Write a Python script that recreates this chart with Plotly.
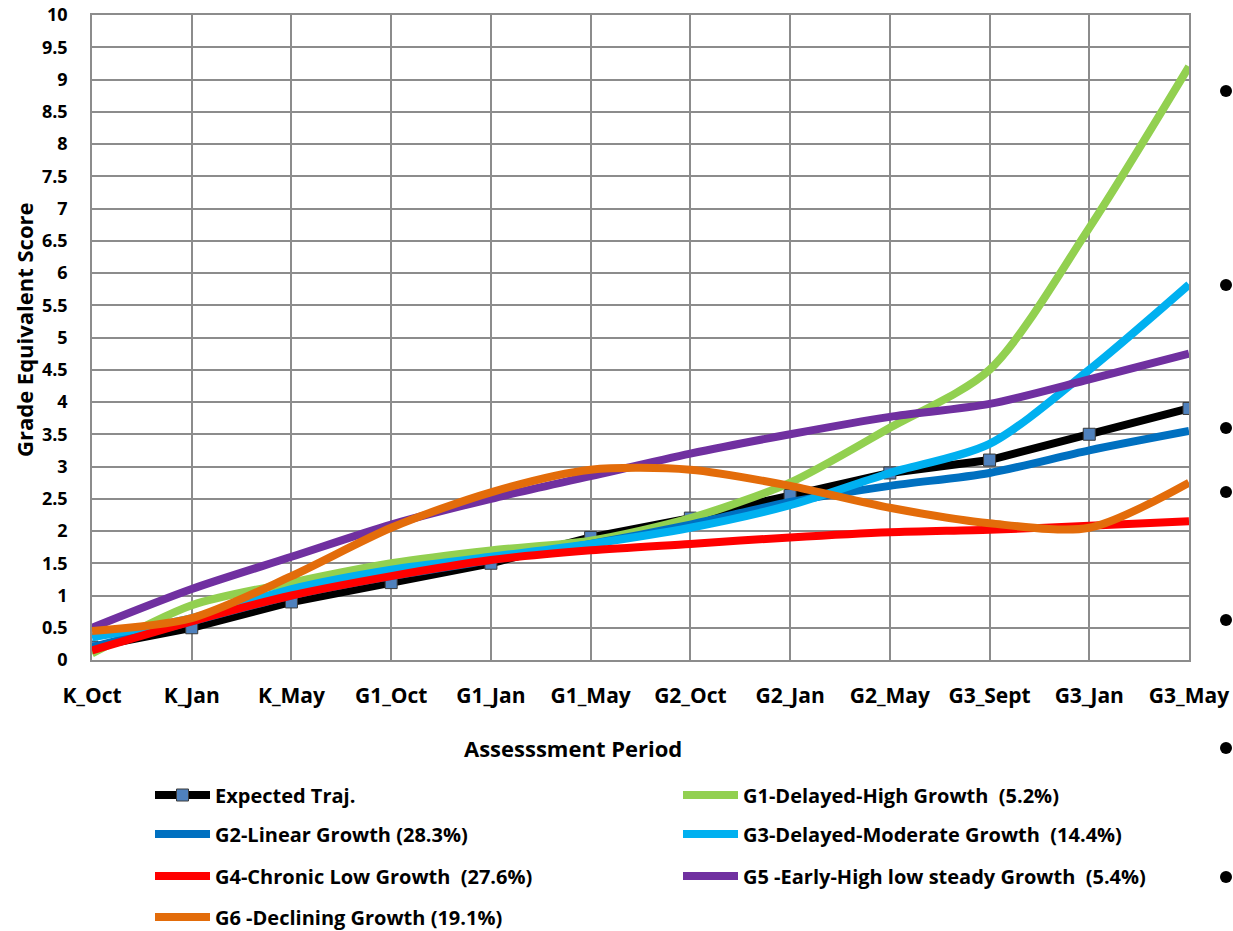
"""Reading growth trajectories by latent class, Excel-style line chart."""

import plotly.graph_objects as go

periods = ["K_Oct", "K_Jan", "K_May", "G1_Oct", "G1_Jan", "G1_May",
           "G2_Oct", "G2_Jan", "G2_May", "G3_Sept", "G3_Jan", "G3_May"]

expected = [0.2, 0.5, 0.9, 1.2, 1.5, 1.9, 2.2, 2.55, 2.9, 3.1, 3.5, 3.9]
g1_delayed_high = [0.1, 0.85, 1.2, 1.5, 1.7, 1.85, 2.2, 2.75, 3.6, 4.5, 6.7, 9.2]
g2_linear = [0.2, 0.6, 1.0, 1.3, 1.55, 1.8, 2.1, 2.45, 2.7, 2.9, 3.25, 3.55]
g3_delayed_mod = [0.35, 0.65, 1.1, 1.4, 1.6, 1.8, 2.05, 2.4, 2.9, 3.35, 4.5, 5.82]
g4_chronic_low = [0.15, 0.6, 1.0, 1.3, 1.55, 1.7, 1.8, 1.9, 1.98, 2.02, 2.08, 2.15]
g5_early_high = [0.5, 1.1, 1.6, 2.1, 2.5, 2.85, 3.2, 3.5, 3.77, 3.97, 4.35, 4.75]
g6_declining = [0.45, 0.65, 1.3, 2.05, 2.6, 2.95, 2.95, 2.7, 2.36, 2.12, 2.05, 2.75]

series = [
    ("G1-Delayed-High Growth  (5.2%)", g1_delayed_high, "#92D050", "legend"),
    ("G2-Linear Growth (28.3%)", g2_linear, "#0070C0", "legend2"),
    ("G3-Delayed-Moderate Growth  (14.4%)", g3_delayed_mod, "#00B0F0", "legend2"),
    ("G4-Chronic Low Growth  (27.6%)", g4_chronic_low, "#FF0000", "legend3"),
    ("G5 -Early-High low steady Growth  (5.4%)", g5_early_high, "#7030A0", "legend3"),
    ("G6 -Declining Growth (19.1%)", g6_declining, "#E36C0A", "legend4"),
]

FONT = "Open Sans"

fig = go.Figure()

fig.add_trace(go.Scatter(
    x=periods, y=expected, name="Expected Traj.", mode="lines+markers",
    line=dict(color="black", width=8),
    marker=dict(symbol="square", size=12, color="#4F81BD",
                line=dict(color="#3a3a3a", width=1)),
    legend="legend",
))

for name, vals, color, leg in series:
    fig.add_trace(go.Scatter(
        x=periods, y=vals, name=name, mode="lines",
        line=dict(color=color, width=8, shape="spline", smoothing=0.8),
        legend=leg,
    ))

# plot area on the page: x 92..1189, y 15..660
W, H = 1233, 931
L, R, T, B = 92, 44, 15, 271
PW, PH = W - L - R, H - T - B


def px_x(x):
    return (x - L) / PW


def px_y(y):
    return (T + PH - y) / PH


legend_common = dict(
    orientation="h", entrywidth=458, entrywidthmode="pixels", itemwidth=55,
    font=dict(family=FONT, size=20, color="black", weight="bold"),
    bgcolor="rgba(0,0,0,0)", xanchor="left", yanchor="middle",
)
rows = [795, 834, 876, 917]
legends = {}
for i, yy in enumerate(rows):
    key = "legend" if i == 0 else f"legend{i + 1}"
    legends[key] = dict(legend_common, x=px_x(150), y=px_y(yy))

# stray slide bullets cut off on the right edge
bullet_rows = [91, 285, 428, 492, 620, 748, 877]
shapes = [
    dict(type="circle", xref="paper", yref="paper",
         xsizemode="pixel", ysizemode="pixel",
         xanchor=px_x(1226), yanchor=px_y(by),
         x0=-6, x1=6, y0=-6, y1=6,
         fillcolor="black", line=dict(width=0))
    for by in bullet_rows
]

annotations = [
    dict(text="Assesssment Period", x=px_x(573), y=px_y(748),
         xref="paper", yref="paper", showarrow=False,
         font=dict(family=FONT, size=22, color="black", weight="bold"),
         xanchor="center", yanchor="middle"),
    dict(text="Grade Equivalent Score", x=px_x(24), y=px_y(330),
         xref="paper", yref="paper", showarrow=False, textangle=-90,
         font=dict(family=FONT, size=22, color="black", weight="bold"),
         xanchor="center", yanchor="middle"),
]

fig.update_layout(
    width=W, height=H,
    margin=dict(l=L, r=R, t=T, b=B, autoexpand=False),
    plot_bgcolor="white", paper_bgcolor="white",
    showlegend=True,
    annotations=annotations,
    shapes=shapes,
    **legends,
)
fig.update_xaxes(
    type="category", categoryorder="array", categoryarray=periods,
    range=[0, len(periods) - 1],
    showgrid=True, gridcolor="#8C8C8C", gridwidth=1.5,
    showline=True, linecolor="#8C8C8C", linewidth=1.5, mirror=True,
    ticks="", ticklabelstandoff=16,
    tickfont=dict(family=FONT, size=21, color="black", weight="bold"),
)
fig.update_yaxes(
    range=[0, 10], dtick=0.5,
    showgrid=True, gridcolor="#8C8C8C", gridwidth=1.5,
    showline=True, linecolor="#8C8C8C", linewidth=1.5, mirror=True,
    zeroline=False, ticks="", ticklabelstandoff=19,
    tickfont=dict(family=FONT, size=18, color="black", weight="bold"),
)

# drop the default 8px page margin so the figure sits at the window's corner
fig.write_html("out.html", config={"displayModeBar": False},
               post_script="document.body.style.margin = '0';")
